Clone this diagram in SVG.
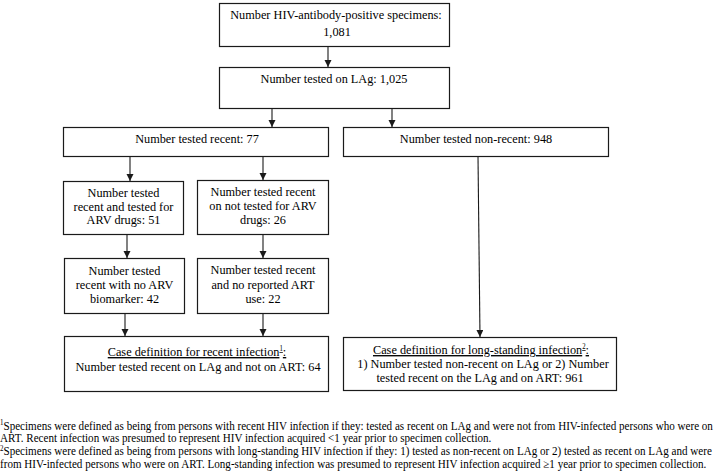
<svg xmlns="http://www.w3.org/2000/svg" width="716" height="473" viewBox="0 0 716 473">
<style>
.box{fill:#fff;stroke:#1a1a1a;stroke-width:1.2}
.t{font-family:"Liberation Serif","Times New Roman",serif;font-size:13.5px;fill:#000;text-anchor:middle}
.u{text-decoration:underline}
.fn{font-family:"Liberation Serif","Times New Roman",serif;font-size:12px;fill:#000}
.sup{font-size:7.5px}
.c{stroke:#1a1a1a;stroke-width:1.1;fill:none;marker-end:url(#ah)}
</style>
<defs>
<marker id="ah" markerUnits="userSpaceOnUse" markerWidth="8" markerHeight="8" refX="7" refY="3.5" orient="auto">
<path d="M0,0 L7,3.5 L0,7 z" fill="#1a1a1a"/>
</marker>
</defs>
<rect width="716" height="473" fill="#fff"/>
<g id="connectors">
<line class="c" x1="328" y1="46" x2="328" y2="67"/>
<line class="c" x1="272" y1="108" x2="272" y2="127"/>
<line class="c" x1="392" y1="108" x2="392" y2="127"/>
<line class="c" x1="130" y1="156" x2="130" y2="181"/>
<line class="c" x1="263" y1="156" x2="263" y2="180"/>
<line class="c" x1="127" y1="234" x2="127" y2="258"/>
<line class="c" x1="263" y1="234" x2="263" y2="258"/>
<line class="c" x1="125" y1="313" x2="125" y2="336"/>
<line class="c" x1="263" y1="313" x2="263" y2="336"/>
<line class="c" x1="478" y1="156" x2="480" y2="337"/>
</g>
<g id="n1">
<rect class="box" x="219.5" y="3.5" width="230" height="43"/>
<text class="t" transform="translate(336,0) scale(0.91,1)" x="0" y="19">Number HIV-antibody-positive specimens:</text>
<text class="t" transform="translate(337,0) scale(0.91,1)" x="0" y="36">1,081</text>
</g>
<g id="n2">
<rect class="box" x="219.5" y="67.5" width="230" height="41"/>
<text class="t" transform="translate(334,0) scale(0.91,1)" x="0" y="83.5">Number tested on LAg: 1,025</text>
</g>
<g id="n3">
<rect class="box" x="63.5" y="127.5" width="265" height="29"/>
<text class="t" transform="translate(197,0) scale(0.91,1)" x="0" y="143.5">Number tested recent: 77</text>
</g>
<g id="n4">
<rect class="box" x="343.5" y="127.5" width="265" height="29"/>
<text class="t" transform="translate(476,0) scale(0.91,1)" x="0" y="143.5">Number tested non-recent: 948</text>
</g>
<g id="n5">
<rect class="box" x="63.5" y="181.5" width="120" height="53"/>
<text class="t" transform="translate(123.5,0) scale(0.91,1)" x="0" y="197">Number tested</text>
<text class="t" transform="translate(123.5,0) scale(0.91,1)" x="0" y="211">recent and tested for</text>
<text class="t" transform="translate(123.5,0) scale(0.91,1)" x="0" y="224.5">ARV drugs: 51</text>
</g>
<g id="n6">
<rect class="box" x="197.5" y="180.5" width="131" height="54"/>
<text class="t" transform="translate(263,0) scale(0.91,1)" x="0" y="196.5">Number tested recent</text>
<text class="t" transform="translate(263,0) scale(0.91,1)" x="0" y="210.5">on not tested for ARV</text>
<text class="t" transform="translate(263,0) scale(0.91,1)" x="0" y="224">drugs: 26</text>
</g>
<g id="n7">
<rect class="box" x="64.5" y="258.5" width="120" height="55"/>
<text class="t" transform="translate(124.5,0) scale(0.91,1)" x="0" y="275">Number tested</text>
<text class="t" transform="translate(124.5,0) scale(0.91,1)" x="0" y="289">recent with no ARV</text>
<text class="t" transform="translate(124.5,0) scale(0.91,1)" x="0" y="303">biomarker: 42</text>
</g>
<g id="n8">
<rect class="box" x="197.5" y="258.5" width="131" height="55"/>
<text class="t" transform="translate(263,0) scale(0.91,1)" x="0" y="274.5">Number tested recent</text>
<text class="t" transform="translate(263,0) scale(0.91,1)" x="0" y="289">and no reported ART</text>
<text class="t" transform="translate(263,0) scale(0.91,1)" x="0" y="303">use: 22</text>
</g>
<g id="n9">
<rect class="box" x="64.5" y="336.5" width="264" height="55"/>
<text class="t u" transform="translate(197,0) scale(0.91,1)" x="0" y="356">Case definition for recent infection<tspan class="sup" dy="-5">1</tspan><tspan dy="5">:</tspan></text>
<text class="t" transform="translate(198,0) scale(0.91,1)" x="0" y="371">Number tested recent on LAg and not on ART: 64</text>
</g>
<g id="n10">
<rect class="box" x="343.5" y="337.5" width="273" height="53"/>
<text class="t u" transform="translate(481,0) scale(0.91,1)" x="0" y="354">Case definition for long-standing infection<tspan class="sup" dy="-5">2</tspan><tspan dy="5">:</tspan></text>
<text class="t" transform="translate(483,0) scale(0.91,1)" x="0" y="368">1) Number tested non-recent on LAg or 2) Number</text>
<text class="t" transform="translate(480,0) scale(0.91,1)" x="0" y="382">tested recent on the LAg and on ART: 961</text>
</g>
<g id="footnotes" transform="scale(0.925,1)">
<text class="fn" x="0" y="430"><tspan class="sup" dy="-4.5">1</tspan><tspan dy="4.5">Specimens were defined as being from persons with recent HIV infection if they: tested as recent on LAg and were not from HIV-infected persons who were on</tspan></text>
<text class="fn" x="0" y="442.5">ART. Recent infection was presumed to represent HIV infection acquired &lt;1 year prior to specimen collection.</text>
<text class="fn" x="0" y="455.5"><tspan class="sup" dy="-4.5">2</tspan><tspan dy="4.5">Specimens were defined as being from persons with long-standing HIV infection if they: 1) tested as non-recent on LAg or 2) tested as recent on LAg and were</tspan></text>
<text class="fn" x="0" y="468">from HIV-infected persons who were on ART. Long-standing infection was presumed to represent HIV infection acquired ≥1 year prior to specimen collection.</text>
</g>
</svg>
